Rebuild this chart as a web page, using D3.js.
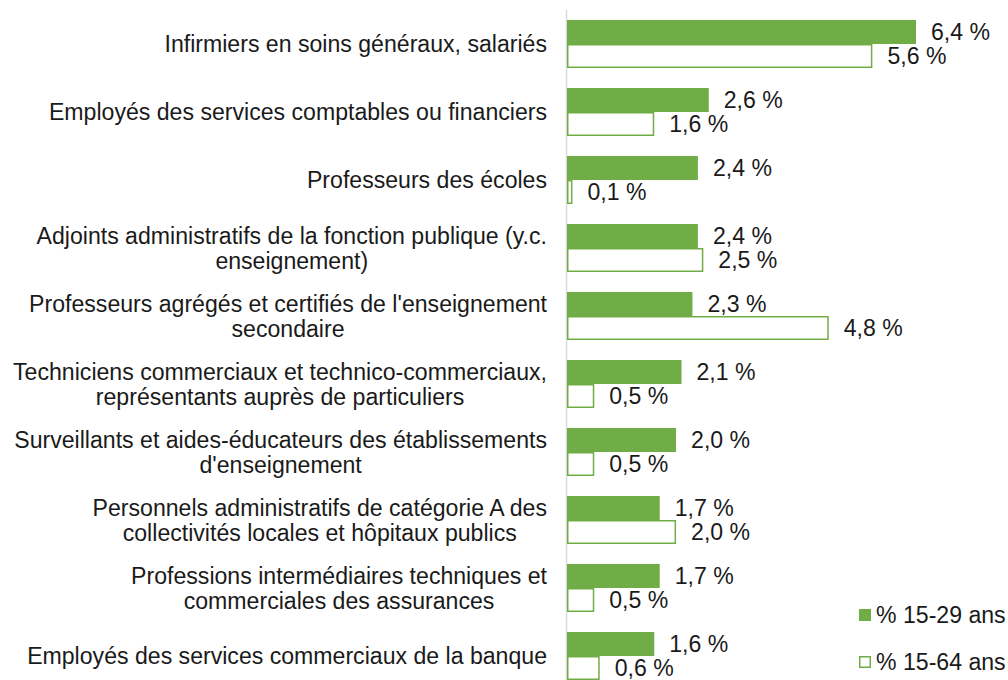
<!DOCTYPE html>
<html>
<head>
<meta charset="utf-8">
<script src="https://cdn.jsdelivr.net/npm/d3@7"></script>
<style>
  body { margin: 0; background: #fff; }
  svg { display: block; font-family: "Liberation Sans", Arial, sans-serif; }
</style>
</head>
<body>
<svg id="chart" width="1008" height="680"></svg>
<script>
// categories (each entry = lines of the wrapped label)
const categories = [
  ["Infirmiers en soins généraux, salariés"],
  ["Employés des services comptables ou financiers"],
  ["Professeurs des écoles"],
  ["Adjoints administratifs de la fonction publique (y.c.", "enseignement)"],
  ["Professeurs agrégés et certifiés de l'enseignement", "secondaire"],
  ["Techniciens commerciaux et technico-commerciaux,", "représentants auprès de particuliers"],
  ["Surveillants et aides-éducateurs des établissements", "d'enseignement"],
  ["Personnels administratifs de catégorie A des", "collectivités locales et hôpitaux publics"],
  ["Professions intermédiaires techniques et", "commerciales des assurances"],
  ["Employés des services commerciaux de la banque"]
];
const young = [6.4, 2.6, 2.4, 2.4, 2.3, 2.1, 2.0, 1.7, 1.7, 1.6];
const all = [5.6, 1.6, 0.1, 2.5, 4.8, 0.5, 0.5, 2.0, 0.5, 0.6];
const seriesNames = ["% 15-29 ans", "% 15-64 ans"];

const green = "#70ad47";
const ink = "#1a1a1a";
const fs = 23.1;
const svg = d3.select("#chart");

const x = d3.scaleLinear().domain([0, 6.4]).range([567, 916]);
const y = d3.scaleBand().domain(d3.range(categories.length)).range([10, 690]);
const barH = 24;
const groupOff = (y.bandwidth() - 2 * barH) / 2;

const fmt = v => d3.format(".1f")(v).replace(".", ",") + " %";

// axis line
svg.append("line")
  .attr("x1", 566.5).attr("x2", 566.5)
  .attr("y1", 10).attr("y2", 680)
  .attr("stroke", "#d9d9d9").attr("stroke-width", 1.5);

const rows = svg.selectAll("g.row").data(categories).enter().append("g")
  .attr("class", "row")
  .attr("transform", (d, i) => `translate(0,${y(i)})`);

// filled bars (15-29)
rows.append("rect")
  .attr("x", x(0))
  .attr("y", groupOff)
  .attr("width", (d, i) => x(young[i]) - x(0))
  .attr("height", barH)
  .attr("fill", green);

// outline bars (15-64)
rows.append("rect")
  .attr("x", x(0) + 0.75)
  .attr("y", groupOff + barH + 0.75)
  .attr("width", (d, i) => Math.max(0, x(all[i]) - x(0) - 1.5))
  .attr("height", barH - 1.5)
  .attr("fill", "#fff")
  .attr("stroke", green)
  .attr("stroke-width", 1.5);

// value labels
rows.append("text")
  .attr("x", (d, i) => x(young[i]) + 15)
  .attr("y", groupOff + barH / 2)
  .attr("dy", "0.35em")
  .attr("font-size", fs).attr("fill", ink)
  .text((d, i) => fmt(young[i]));

rows.append("text")
  .attr("x", (d, i) => x(all[i]) + 15)
  .attr("y", groupOff + barH * 1.5)
  .attr("dy", "0.35em")
  .attr("font-size", fs).attr("fill", ink)
  .text((d, i) => fmt(all[i]));

// category labels: block right-aligned, lines centered
rows.each(function(lines) {
  const g = d3.select(this);
  const t = g.append("text")
    .attr("font-size", fs).attr("fill", ink)
    .attr("text-anchor", "middle");
  const lh = 25;
  const top = y.bandwidth() / 2 - (lines.length - 1) * lh / 2;
  const spans = lines.map((l, k) => t.append("tspan")
    .attr("y", top + k * lh).attr("dy", "0.35em").text(l));
  const w = d3.max(spans, s => s.node().getComputedTextLength());
  spans.forEach(s => s.attr("x", 547 - w / 2));
});

// legend
const legend = svg.append("g");
seriesNames.forEach((name, k) => {
  const ly = 615 + k * 47;
  if (k === 0) {
    legend.append("rect").attr("x", 859).attr("y", ly - 6).attr("width", 12).attr("height", 12).attr("fill", green);
  } else {
    legend.append("rect").attr("x", 859.75).attr("y", ly - 5.25).attr("width", 10.5).attr("height", 10.5)
      .attr("fill", "#fff").attr("stroke", green).attr("stroke-width", 1.5);
  }
  legend.append("text").attr("x", 876).attr("y", ly).attr("dy", "0.35em")
    .attr("font-size", fs).attr("fill", ink).text(name);
});
</script>
</body>
</html>
